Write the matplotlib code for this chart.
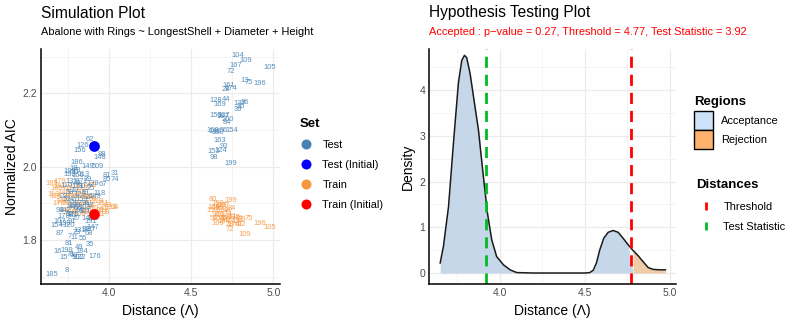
import matplotlib
matplotlib.use("Agg")
import matplotlib.pyplot as plt
from matplotlib.lines import Line2D
from matplotlib.patches import Patch
from matplotlib.ticker import MultipleLocator
import numpy as np

plt.rcParams['font.family'] = ['Liberation Sans', 'DejaVu Sans']

# ---- simulation data (distance, normalized AIC, observation label) ----
test_x = [3.649, 3.740, 3.909, 3.882, 3.815, 3.832, 3.754, 3.683, 3.720, 3.821, 3.805, 3.741,
          3.765, 3.785, 3.699, 3.841, 3.876, 3.760, 3.790, 3.800, 3.820, 3.860, 3.880, 3.900,
          3.680, 3.700, 3.730, 3.750, 3.770, 3.890, 3.870, 3.900, 3.720, 3.760, 3.780, 3.800,
          3.700, 3.730, 3.820, 3.850, 3.750, 3.780, 3.800, 3.830, 3.860, 3.943, 3.720, 3.760,
          3.790, 3.820, 3.850, 3.890, 3.910, 3.963, 3.740, 3.770, 3.800, 3.830, 3.870, 3.900,
          3.984, 4.035, 3.984, 4.035, 3.760, 3.790, 3.810, 3.840, 3.780, 3.801, 3.870, 3.920,
          3.950, 3.943, 3.955, 3.882, 3.841, 3.821, 3.770, 3.790, 3.740, 3.810, 3.850, 3.880,
          3.760, 3.800, 3.830, 3.870, 3.780, 3.810,
          4.783, 4.832, 4.771, 4.738, 4.980, 4.823, 4.848, 4.919, 4.726, 4.710, 4.742, 4.651,
          4.712, 4.675, 4.793, 4.827, 4.783, 4.805, 4.651, 4.700, 4.724, 4.718, 4.630, 4.660,
          4.700, 4.746, 4.675, 4.701, 4.634, 4.680, 4.636, 4.742, 4.645, 4.690]
test_y = [1.707, 1.716, 1.755, 1.788, 1.780, 1.770, 1.790, 1.768, 1.752, 1.753, 1.753, 1.772,
          1.760, 1.757, 1.818, 1.803, 1.818, 1.810, 1.806, 1.820, 1.825, 1.828, 1.830, 1.833,
          1.840, 1.850, 1.845, 1.840, 1.850, 1.850, 1.860, 1.860, 1.865, 1.870, 1.868, 1.860,
          1.880, 1.880, 1.880, 1.878, 1.900, 1.910, 1.900, 1.910, 1.900, 1.927, 1.920, 1.930,
          1.935, 1.925, 1.930, 1.940, 1.920, 1.952, 1.950, 1.960, 1.955, 1.960, 1.965, 1.955,
          1.975, 1.982, 1.966, 1.966, 1.980, 1.985, 1.975, 1.980, 1.995, 2.012, 2.000, 2.000,
          2.000, 2.025, 2.032, 2.075, 2.057, 2.044, 1.890, 1.895, 1.910, 1.945, 1.890, 1.895,
          1.988, 1.990, 1.945, 1.915, 1.870, 1.885,
          2.304, 2.289, 2.275, 2.260, 2.271, 2.236, 2.229, 2.226, 2.221, 2.210, 2.212, 2.180,
          2.184, 2.170, 2.173, 2.175, 2.157, 2.165, 2.141, 2.140, 2.130, 2.120, 2.100, 2.092,
          2.098, 2.098, 2.071, 2.055, 2.041, 2.043, 2.026, 2.009, 2.095, 2.137]
test_lab = ['185', '8', '176', '35', '49', '184', '81', '16', '15', '122', '102', '199',
            '71', '60', '87', '55', '68', '7', '11', '23', '131', '34', '137', '147',
            '154', '107', '130', '120', '91', '191', '141', '125', '178', '52', '83', '27',
            '94', '142', '64', '101', '3', '46', '117', '159', '96', '118', '22', '58',
            '10', '129', '79', '25', '189', '67', '110', '135', '40', '172', '29', '139',
            '81', '31', '85', '74', '192', '50', '166', '113', '19', '186', '149', '50',
            '9', '148', '88', '62', '126', '156', '44', '138', '57', '171', '103', '12',
            '193', '78', '30', '2', '175', '66',
            '104', '109', '167', '72', '105', '13', '75', '196', '161', '28', '174', '128',
            '44', '169', '137', '86', '39', '36', '150', '107', '200', '84', '168', '180',
            '56', '154', '163', '93', '153', '124', '98', '199', '140', '187']

train_x = [3.649, 3.680, 3.700, 3.660, 3.670, 3.690, 3.720, 3.740, 3.760, 3.780, 3.800, 3.820,
           3.840, 3.860, 3.880, 3.900, 3.930, 3.960, 3.990, 4.035, 4.010, 3.970, 3.940, 3.910,
           3.890, 3.860, 3.830, 3.800, 3.770, 3.740, 3.710, 3.690, 3.730, 3.760, 3.790, 3.820,
           3.850, 3.870, 3.950, 3.980, 3.750, 3.790, 3.830, 3.870, 3.900, 3.700,
           4.634, 4.742, 4.660, 4.680, 4.640, 4.700, 4.630, 4.660, 4.690, 4.746, 4.720, 4.650,
           4.680, 4.710, 4.740, 4.760, 4.790, 4.810, 4.848, 4.640, 4.670, 4.700, 4.730, 4.770,
           4.736, 4.760, 4.790, 4.810, 4.736, 4.827, 4.919, 4.980, 4.660, 4.700]
train_y = [1.954, 1.940, 1.945, 1.925, 1.920, 1.915, 1.930, 1.920, 1.925, 1.915, 1.920, 1.930,
           1.920, 1.915, 1.920, 1.910, 1.905, 1.900, 1.895, 1.889, 1.890, 1.885, 1.880, 1.885,
           1.895, 1.900, 1.895, 1.900, 1.895, 1.900, 1.905, 1.900, 1.880, 1.875, 1.880, 1.870,
           1.875, 1.880, 1.870, 1.875, 1.940, 1.945, 1.940, 1.945, 1.950, 1.960,
           1.911, 1.909, 1.900, 1.895, 1.890, 1.895, 1.880, 1.885, 1.880, 1.887, 1.880, 1.870,
           1.868, 1.870, 1.865, 1.862, 1.858, 1.855, 1.859, 1.860, 1.858, 1.860, 1.855, 1.850,
           1.842, 1.842, 1.842, 1.842, 1.829, 1.816, 1.846, 1.834, 1.845, 1.850]
train_lab = ['185', '165', '161', '118', '114', '5', '143', '92', '38', '177', '61', '145',
             '18', '190', '26', '53', '119', '151', '63', '34', '133', '41', '88', '70',
             '2', '181', '97', '6', '123', '57', '146', '170', '14', '188', '76', '100',
             '42', '158', '21', '98', '65', '116', '173', '95', '33', '179',
             '80', '199', '150', '128', '168', '107', '153', '180', '163', '34', '44', '98',
             '93', '124', '161', '137', '86', '39', '75', '56', '154', '84', '200', '13',
             '28', '174', '67', '12', '72', '109', '196', '105', '169', '188']

test_init = (3.905, 2.057)
train_init = (3.905, 1.871)

# ---- hypothesis testing: density of distances ----
dens_x = [3.650, 3.669, 3.699, 3.728, 3.757, 3.777, 3.793, 3.806, 3.826, 3.849, 3.875, 3.904,
          3.928, 3.953, 3.982, 4.022, 4.061, 4.100, 4.200, 4.300, 4.400, 4.500, 4.530, 4.550,
          4.569, 4.589, 4.612, 4.638, 4.667, 4.697, 4.726, 4.755, 4.785, 4.814, 4.843, 4.873,
          4.902, 4.941, 4.975]
dens_y = [0.22, 0.58, 1.45, 2.84, 4.15, 4.65, 4.76, 4.71, 4.36, 3.78, 3.13, 2.11,
          1.31, 0.73, 0.36, 0.18, 0.07, 0.01, 0.0, 0.0, 0.0, 0.0, 0.01, 0.06,
          0.22, 0.51, 0.76, 0.89, 0.93, 0.89, 0.76, 0.62, 0.49, 0.38, 0.25, 0.12,
          0.08, 0.07, 0.07]
threshold = 4.77
test_stat = 3.92
p_value = 0.27

BLUE = '#4682B4'
ORANGE = '#F8963F'

fig = plt.figure(figsize=(7.93, 3.27), dpi=100)
ax1 = fig.add_axes([41 / 793, 43 / 327, 239 / 793, 234.6 / 327])
ax2 = fig.add_axes([429.3 / 793, 43 / 327, 246.7 / 793, 234.6 / 327])


def style_axes(ax):
    for s in ['top', 'right']:
        ax.spines[s].set_visible(False)
    for s in ['left', 'bottom']:
        ax.spines[s].set_linewidth(1.1)
        ax.spines[s].set_color('black')
    ax.grid(True, which='major', color='#ebebeb', lw=0.9)
    ax.grid(True, which='minor', color='#f3f3f3', lw=0.6)
    ax.set_axisbelow(True)
    ax.tick_params(which='both', length=0, labelsize=7.5, labelcolor='#4d4d4d', pad=3)


# left panel
style_axes(ax1)
ax1.set_xlim(3.5835, 5.041)
ax1.set_ylim(1.68, 2.32)
ax1.xaxis.set_major_locator(MultipleLocator(0.5))
ax1.xaxis.set_minor_locator(MultipleLocator(0.25))
ax1.set_yticks([1.7, 1.9, 2.1, 2.3], minor=True)
ax1.set_yticks([1.8, 2.0, 2.2])

for x, y, t in zip(train_x, train_y, train_lab):
    ax1.text(x, y, t, color=ORANGE, fontsize=5.4, ha='center', va='center', alpha=0.9)
for x, y, t in zip(test_x, test_y, test_lab):
    ax1.text(x, y, t, color=BLUE, fontsize=5.4, ha='center', va='center', alpha=0.9)
ax1.scatter([test_init[0]], [test_init[1]], s=60, color='#0000FF', zorder=5, lw=0)
ax1.scatter([train_init[0]], [train_init[1]], s=60, color='#FF0000', zorder=5, lw=0)

ax1.set_xlabel('Distance (\u039b)', fontsize=10, labelpad=4)
ax1.set_ylabel('Normalized AIC', fontsize=10, labelpad=2)

set_handles = [Line2D([], [], ls='none', marker='o', ms=7.2, color=c, mew=0)
               for c in [BLUE, '#0000FF', ORANGE, '#FF0000']]
ax1.legend(set_handles, ['Test', 'Test (Initial)', 'Train', 'Train (Initial)'],
           title='Set', loc='upper left', bbox_to_anchor=(295 / 793, 1 - 114 / 327),
           bbox_transform=fig.transFigure, frameon=False, fontsize=7.9,
           title_fontproperties={'weight': 'bold', 'size': 9.5},
           handletextpad=0.9, labelspacing=0.9, handlelength=1.2,
           alignment='left', borderaxespad=0)

fig.text(41 / 793, 1 - 13 / 327, 'Simulation Plot', fontsize=11.2, va='center', ha='left')
fig.text(41 / 793, 1 - 32 / 327, 'Abalone with Rings ~ LongestShell + Diameter + Height',
         fontsize=7.9, va='center', ha='left')

# right panel
style_axes(ax2)
ax2.set_xlim(3.586, 5.037)
ax2.set_ylim(-0.24, 4.89)
ax2.xaxis.set_major_locator(MultipleLocator(0.5))
ax2.xaxis.set_minor_locator(MultipleLocator(0.25))
ax2.yaxis.set_major_locator(MultipleLocator(1))
ax2.yaxis.set_minor_locator(MultipleLocator(0.5))

dx = np.array(dens_x)
dy = np.array(dens_y)
ax2.fill_between(dx, 0, dy, where=dx <= threshold, interpolate=True,
                 color='#c6d7ea', lw=0)
ax2.fill_between(dx, 0, dy, where=dx >= threshold, interpolate=True,
                 color='#f0cba7', lw=0)
ax2.plot(dx, dy, color='#1a1a1a', lw=1.1)
ax2.axvline(threshold, color='#FF0000', ls=(0, (4, 2.5)), lw=2)
ax2.axvline(test_stat, color='#00BB22', ls=(0, (4, 2.5)), lw=2)

ax2.set_xlabel('Distance (\u039b)', fontsize=10, labelpad=4)
ax2.set_ylabel('Density', fontsize=10, labelpad=3)

fig.text(429.3 / 793, 1 - 13 / 327, 'Hypothesis Testing Plot', fontsize=11.2,
         va='center', ha='left')
fig.text(429.3 / 793, 1 - 32 / 327,
         f'Accepted : p\u2212value = {p_value}, Threshold = {threshold}, '
         f'Test Statistic = {test_stat}',
         fontsize=7.9, va='center', ha='left', color='#FF0000')

reg_handles = [Patch(facecolor='#cfe1f6', edgecolor='black', lw=1),
               Patch(facecolor='#fdb26e', edgecolor='black', lw=1)]
leg2 = ax2.legend(reg_handles, ['Acceptance', 'Rejection'], title='Regions',
                  loc='upper left', bbox_to_anchor=(692 / 793, 1 - 94 / 327),
                  bbox_transform=fig.transFigure, frameon=False, fontsize=7.9,
                  title_fontproperties={'weight': 'bold', 'size': 9.5},
                  handlelength=1.75, handleheight=2.3, handletextpad=0.7,
                  labelspacing=0.0, alignment='left', borderaxespad=0,
                  borderpad=0.2)
leg2._legend_box.sep = 2
ax2.add_artist(leg2)

dist_handles = [Line2D([], [], ls='none', marker='|', ms=6, mew=2, color='#FF0000'),
                Line2D([], [], ls='none', marker='|', ms=6, mew=2, color='#00BB22')]
ax2.legend(dist_handles, ['Threshold', 'Test Statistic'], title='Distances',
           loc='upper left', bbox_to_anchor=(692 / 793, 1 - 175 / 327),
           bbox_transform=fig.transFigure, frameon=False, fontsize=7.9,
           title_fontproperties={'weight': 'bold', 'size': 9.5},
           handlelength=1.75, handletextpad=0.7, labelspacing=0.95,
           alignment='left', borderaxespad=0)

fig.savefig('out.png', dpi=100)
